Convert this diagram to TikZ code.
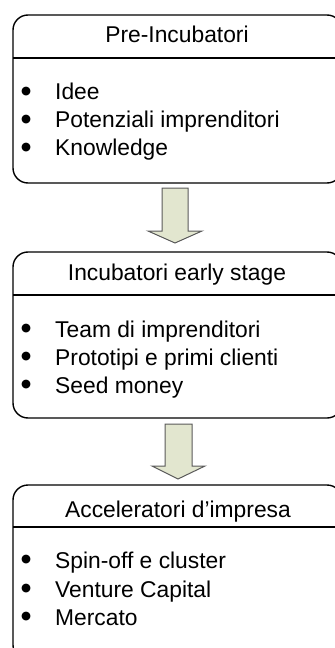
\documentclass[tikz,border=0pt]{standalone}
\usepackage{fontspec}
\setmainfont{Liberation Sans}
\newfontfamily\bulletfont{DejaVu Sans}
\usetikzlibrary{positioning}
\definecolor{arrowfill}{HTML}{E2E6CF}
\definecolor{arrowline}{HTML}{5A5A5A}
\begin{document}
\begin{tikzpicture}[x=1bp,y=-1bp]
                    \tikzset{every node/.style={inner sep=0pt,font=\fontsize{22.9}{28}\selectfont},
                             stagebox/.style={draw=black,line width=1.4bp,rounded corners=15bp},
                             stagetitle/.style={anchor=base},
                             stageitem/.style={anchor=base west},
                             stagedot/.style={anchor=center,font=\bulletfont\fontsize{11.5}{12}\selectfont},
                             blockarrow/.style={fill=arrowfill,draw=arrowline,line width=1bp}}
                    \useasboundingbox (0,0) rectangle (334,648);
                    % Pre-Incubatori
                    \draw [stagebox] (13,15) rectangle (342,183);
                    \draw [black,line width=1.4bp] (13,58) -- (342,58);
                    \node [stagetitle] (pretitle) at (177,43) {Pre-Incubatori};
                    \node [stageitem] (preA) at (55,100) {Idee};
                    \node [stageitem] (preB) at (55,128) {Potenziali imprenditori};
                    \node [stageitem] (preC) at (55,156) {Knowledge};
                    % freccia 1
                    \draw [blockarrow] (162,188) -- (188,188) -- (188,231) -- (202,231)
                          -- (175,243) -- (148,231) -- (162,231) -- cycle;
                    % Incubatori early stage
                    \draw [stagebox] (13,252) rectangle (342,418);
                    \draw [black,line width=1.4bp] (13,295) -- (342,295);
                    \node [stagetitle] (earlytitle) at (177,280) {Incubatori early stage};
                    \node [stageitem] (earlyA) at (55,337) {Team di imprenditori};
                    \node [stageitem] (earlyB) at (55,365) {Prototipi e primi clienti};
                    \node [stageitem] (earlyC) at (55,393) {Seed money};
                    % freccia 2
                    \draw [blockarrow] (165,424) -- (192,424) -- (192,466) -- (205,466)
                          -- (178,479) -- (152,466) -- (165,466) -- cycle;
                    % Acceleratori d'impresa
                    \draw [stagebox] (13,485) rectangle (342,660);
                    \draw [black,line width=1.4bp] (13,527) -- (342,527);
                    \node [stagetitle] (acctitle) at (178,517) {Acceleratori d’impresa};
                    \node [stageitem] (accA) at (55,568) {Spin-off e cluster};
                    \node [stageitem] (accB) at (55,597) {Venture Capital};
                    \node [stageitem] (accC) at (55,625) {Mercato};
                    % punti elenco
                    \foreach \item in {preA,preB,preC,earlyA,earlyB,earlyC,accA,accB,accC}
                        \node [stagedot] (dot\item) at ([shift={(-29bp,8bp)}]\item.base west) {●};
                \end{tikzpicture}
\end{document}
